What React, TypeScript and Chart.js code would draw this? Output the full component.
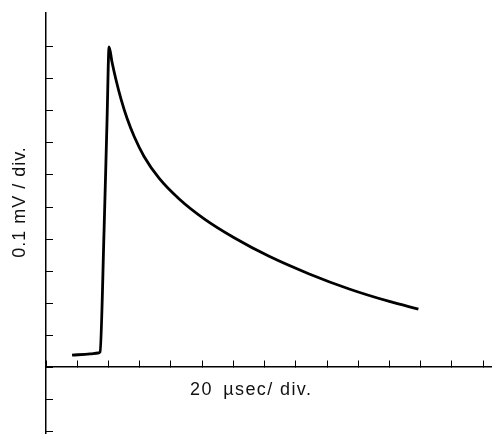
import React, { useEffect, useRef } from "react";
import { Chart, registerables } from "chart.js";

Chart.register(...registerables);

// time in microseconds (20 µs per division)
const timeUs = [
  16.7, 28.2, 33.3, 34.6, 37.2, 39.1, 40.4, 42.3, 44.9, 48.1, 51.9, 56.4, 62.8,
  72.4, 85.3, 101.3, 120.5, 142.9, 168.6, 194.2, 219.9, 238.5,
];
// signal in millivolts (0.1 mV per division)
const signalMv = [
  0.0375, 0.041, 0.044, 0.047, 0.428, 0.772, 1.0, 0.952, 0.896, 0.836, 0.777,
  0.721, 0.658, 0.59, 0.525, 0.463, 0.404, 0.346, 0.291, 0.244, 0.205, 0.181,
];

const xTitle = "20\u2002\u00b5sec/ div.";
const yTitle = "0.1 mV / div.";
const xStep = 20;
const yStep = 0.1;
const xMin = 0;
const xMax = 285;
const yMin = -0.209;
const yMax = 1.106;
const yTickTop = 1.0;

const FONT = '"Liberation Sans", Arial, sans-serif';

export default function App() {
  const ref = useRef<HTMLCanvasElement | null>(null);

  useEffect(() => {
    if (!ref.current) return;
    const titlePlugin = {
      id: "axisTitles",
      afterDraw(chart: any) {
        const ctx = chart.ctx;
        ctx.save();
        ctx.fillStyle = "#111";
        ctx.font = `18px ${FONT}`;
        ctx.textBaseline = "middle";
        ctx.textAlign = "left";
        (ctx as any).letterSpacing = "1.4px";
        ctx.fillText(xTitle, 190, 390);
        ctx.translate(20, 202);
        ctx.rotate(-Math.PI / 2);
        ctx.textAlign = "center";
        (ctx as any).letterSpacing = "1px";
        ctx.fillText(yTitle, 0, 0);
        ctx.restore();
      },
    };
    const chart = new Chart(ref.current, {
      type: "line",
      data: {
        datasets: [
          {
            data: timeUs.map((t, i) => ({ x: t, y: signalMv[i] })),
            borderColor: "#000",
            borderWidth: 2.8,
            pointRadius: 0,
            fill: false,
            cubicInterpolationMode: "monotone",
          },
        ],
      },
      options: {
        animation: false,
        responsive: true,
        maintainAspectRatio: false,
        layout: { padding: { top: 13, right: 1, bottom: 0, left: 0 } },
        plugins: { legend: { display: false }, tooltip: { enabled: false } },
        scales: {
          x: {
            type: "linear",
            position: { y: 0 },
            min: xMin,
            max: xMax,
            ticks: { display: false, stepSize: xStep, includeBounds: false },
            grid: {
              display: true,
              drawOnChartArea: false,
              drawTicks: true,
              tickLength: -7,
              color: "#000",
              lineWidth: 1,
            },
            border: { display: true, color: "#000", width: 1.5 },
          },
          y: {
            type: "linear",
            position: "left",
            min: yMin,
            max: yMax,
            afterFit: (s: any) => {
              s.width = 46;
            },
            afterBuildTicks: (s: any) => {
              s.ticks = s.ticks.filter((t: any) => t.value <= yTickTop + 1e-6);
            },
            ticks: { display: false, stepSize: yStep, includeBounds: false },
            grid: {
              display: true,
              drawOnChartArea: false,
              drawTicks: true,
              tickLength: -7,
              color: "#000",
              lineWidth: 1,
            },
            border: { display: true, color: "#000", width: 1.5 },
          },
        },
      },
      plugins: [titlePlugin],
    } as any);
    return () => chart.destroy();
  }, []);

  return (
    <div
      style={{
        position: "absolute",
        left: 0,
        top: 0,
        width: 492,
        height: 434,
        background: "#fff",
      }}
    >
      <canvas ref={ref} />
    </div>
  );
}
